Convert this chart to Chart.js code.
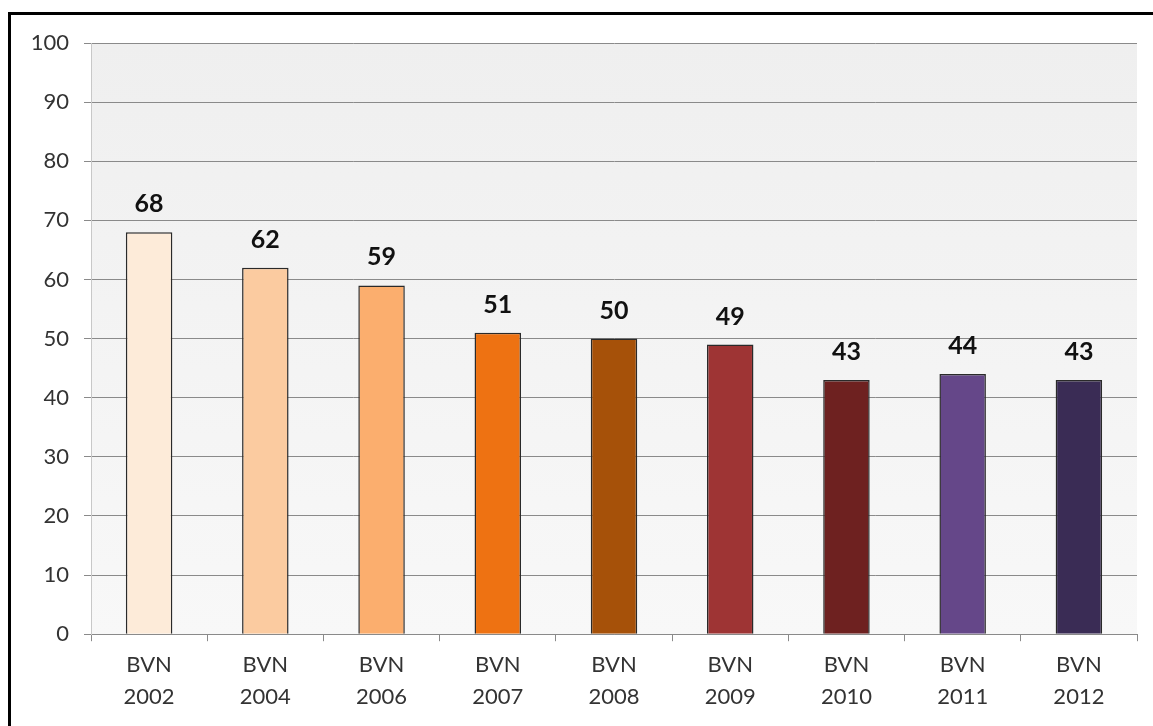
<!DOCTYPE html>
<html>
<head>
<meta charset="utf-8">
<script src="https://cdn.jsdelivr.net/npm/chart.js@4/dist/chart.umd.min.js"></script>
<style>
  html, body { margin: 0; padding: 0; background: #fff; overflow: hidden; }
  canvas { display: block; }
</style>
</head>
<body>
<canvas id="c" width="1153" height="726"></canvas>
<script>
const categories = [["BVN","2002"],["BVN","2004"],["BVN","2006"],["BVN","2007"],["BVN","2008"],["BVN","2009"],["BVN","2010"],["BVN","2011"],["BVN","2012"]];
const values = [68, 62, 59, 51, 50, 49, 43, 44, 43];
const barColors = ["#FDEBD9","#FBCBA0","#FBAE6E","#EE7212","#A65109","#9E3434","#6E2120","#654789","#3A2C55"];
const yTicks = [0,10,20,30,40,50,60,70,80,90,100];

const bgPlugin = {
  id: 'bg',
  beforeDraw(chart) {
    const {ctx, chartArea: a} = chart;
    const g = ctx.createLinearGradient(0, a.top, 0, a.bottom);
    g.addColorStop(0, '#EFEFEF');
    g.addColorStop(1, '#F8F8F8');
    ctx.save();
    ctx.fillStyle = g;
    ctx.fillRect(a.left, a.top, a.right - a.left, a.bottom - a.top);
    ctx.restore();
  },
  afterDraw(chart) {
    const {ctx} = chart;
    ctx.save();
    ctx.fillStyle = '#000';
    ctx.fillRect(8, 12, chart.width - 8, 3);
    ctx.fillRect(8, 12, 3, chart.height - 12);
    ctx.restore();
  }
};

const labelPlugin = {
  id: 'vals',
  afterDatasetsDraw(chart) {
    const {ctx} = chart;
    const meta = chart.getDatasetMeta(0);
    ctx.save();
    ctx.font = 'bold 25px Lato, "Open Sans", sans-serif';
    ctx.fillStyle = '#111';
    ctx.textAlign = 'center';
    ctx.textBaseline = 'alphabetic';
    meta.data.forEach((el, i) => {
      ctx.fillText(String(values[i]), el.x, el.y - 20);
    });
    ctx.restore();
  }
};

new Chart(document.getElementById('c'), {
  type: 'bar',
  data: {
    labels: categories,
    datasets: [{
      data: values,
      backgroundColor: barColors,
      borderColor: '#2a2a2a',
      borderWidth: 1.5,
      borderSkipped: 'bottom',
      barPercentage: 0.4,
      categoryPercentage: 1.0
    }]
  },
  options: {
    responsive: false,
    animation: false,
    devicePixelRatio: 1,
    layout: { padding: { top: 43, right: 16, bottom: 5, left: 0 } },
    plugins: { legend: { display: false }, tooltip: { enabled: false } },
    scales: {
      x: {
        offset: true,
        grid: { display: true, drawOnChartArea: false, drawTicks: true, tickLength: 7, offset: true, color: '#8a8a8a' },
        border: { display: true, color: '#8a8a8a', width: 1 },
        ticks: { color: '#333', font: { family: 'Lato, "Open Sans", sans-serif', size: 22, lineHeight: 1.45 }, padding: 8, maxRotation: 0, autoSkip: false },
      },
      y: {
        min: 0, max: 100,
        afterFit(scale) { scale.width = 91; },
        afterBuildTicks(scale) { scale.ticks = yTicks.map(v => ({ value: v })); },
        grid: { color: '#8a8a8a', lineWidth: 1, tickLength: 7 },
        border: { display: true, color: '#c8c8c8', width: 1 },
        ticks: { color: '#333', font: { family: 'Lato, "Open Sans", sans-serif', size: 22 }, padding: 15 }
      }
    }
  },
  plugins: [bgPlugin, labelPlugin]
});
</script>
</body>
</html>
